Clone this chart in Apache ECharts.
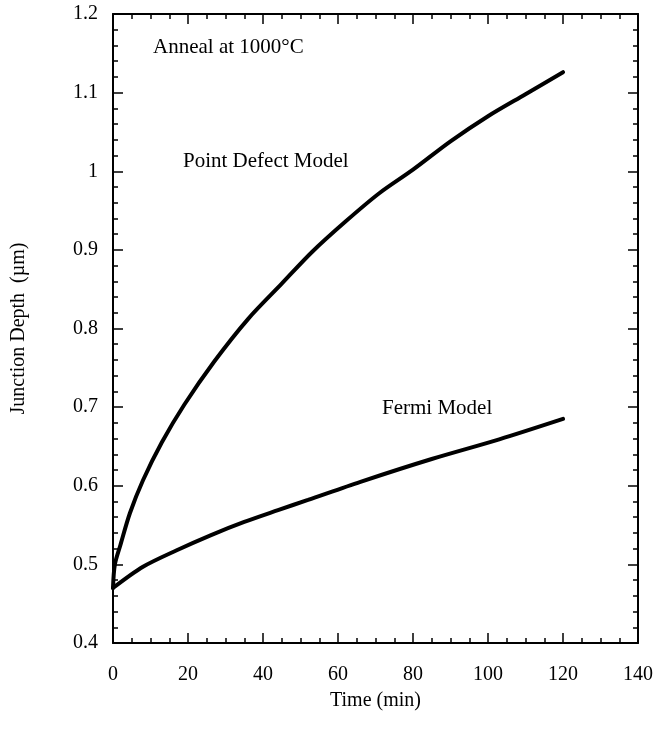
<!DOCTYPE html>
<html>
<head>
<meta charset="utf-8">
<script src="https://cdn.jsdelivr.net/npm/echarts@6/dist/echarts.min.js"></script>
<style>
  html, body { margin: 0; padding: 0; background: #fff; }
  #chart { width: 656px; height: 737px; }
</style>
</head>
<body>
<div id="chart"></div>
<script>
// values
let pdTime = [0, 0.5, 2, 4.5, 8, 13, 19, 27, 36, 45, 53, 62, 71, 80, 90, 100, 110, 120]
let pdDepth = [0.47, 0.50, 0.525, 0.565, 0.607, 0.655, 0.703, 0.758, 0.812, 0.857, 0.897, 0.936, 0.972, 1.002, 1.038, 1.070, 1.098, 1.126]
let fermiTime = [0, 8, 17, 26, 35, 44, 52, 66, 85, 103, 120]
let fermiDepth = [0.47, 0.497, 0.518, 0.537, 0.554, 0.569, 0.582, 0.605, 0.634, 0.659, 0.685]

let font = '"Liberation Serif", "Times New Roman", serif'

function pairs(xs, ys) {
    let out = []
    for (let i in xs) {
        out.push([xs[i], ys[i]])
    }
    return out
}

function axisBase(show) {
    return {
        axisLine: { show: true, onZero: false, lineStyle: { color: '#000', width: 2 } },
        axisTick: { show: true, inside: true, length: 10, lineStyle: { color: '#000', width: 1.5 } },
        minorTick: { show: true, splitNumber: 4, length: 5, lineStyle: { color: '#000', width: 1.5 } },
        splitLine: { show: false },
        axisLabel: { show: show, color: '#000', fontFamily: font, fontSize: 20 }
    }
}

let chart = echarts.init(document.querySelector('#chart'))

let xMain = Object.assign(axisBase(true), {
    type: 'value', min: 0, max: 140, interval: 20, position: 'bottom',
    name: 'Time (min)', nameLocation: 'middle', nameGap: 48,
    nameTextStyle: { color: '#000', fontFamily: font, fontSize: 20 }
})
xMain.axisLabel.margin = 22
let xTop = Object.assign(axisBase(false), { type: 'value', min: 0, max: 140, interval: 20, position: 'top' })

let yMain = Object.assign(axisBase(true), {
    type: 'value', min: 0.4, max: 1.2, interval: 0.1, position: 'left',
    name: 'Junction Depth  (\u00b5m)', nameLocation: 'middle', nameGap: 84, nameRotate: 90,
    nameTextStyle: { color: '#000', fontFamily: font, fontSize: 20 }
})
yMain.minorTick.splitNumber = 5
yMain.axisLabel.margin = 15
let yRight = Object.assign(axisBase(false), { type: 'value', min: 0.4, max: 1.2, interval: 0.1, position: 'right' })
yRight.minorTick.splitNumber = 5

let option = {
    animation: false,
    backgroundColor: '#fff',
    grid: { left: 113, right: 17, top: 14, bottom: 94 },
    xAxis: [xMain, xTop],
    yAxis: [yMain, yRight],
    series: [
        {
            type: 'line', xAxisIndex: 0, yAxisIndex: 0,
            data: pairs(pdTime, pdDepth),
            smooth: 0.3, showSymbol: false,
            lineStyle: { color: '#000', width: 4, cap: 'round' }
        },
        {
            type: 'line', xAxisIndex: 0, yAxisIndex: 0,
            data: pairs(fermiTime, fermiDepth),
            smooth: 0.3, showSymbol: false,
            lineStyle: { color: '#000', width: 4, cap: 'round' }
        }
    ],
    graphic: [
        { type: 'text', left: 153, top: 37, style: { text: 'Anneal at 1000\u00b0C', fill: '#000', font: '21px ' + font } },
        { type: 'text', left: 183, top: 151, style: { text: 'Point Defect Model', fill: '#000', font: '21px ' + font } },
        { type: 'text', left: 382, top: 398, style: { text: 'Fermi Model', fill: '#000', font: '21px ' + font } }
    ]
}
chart.setOption(option)
</script>
</body>
</html>
